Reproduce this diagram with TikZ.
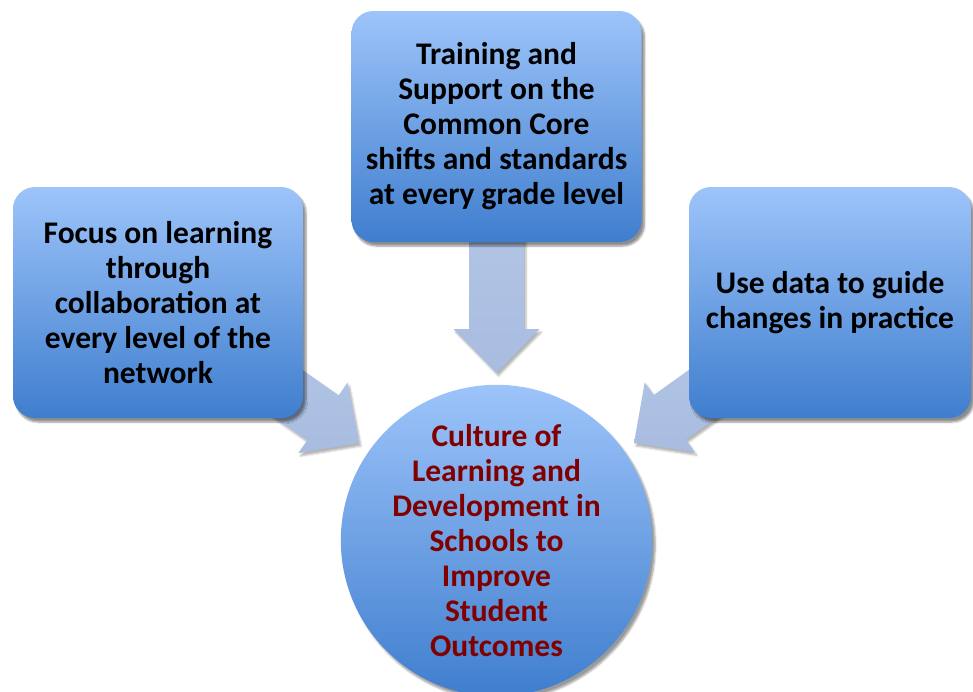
\documentclass[tikz,border=0pt]{standalone}
\usepackage{fontspec}
\setmainfont{Carlito}
\usetikzlibrary{calc,shadows.blur}

\definecolor{boxtop}{RGB}{157,196,250}
\definecolor{boxbot}{RGB}{63,126,206}
\definecolor{arrowtop}{RGB}{185,203,234}
\definecolor{arrowbot}{RGB}{168,188,224}
\definecolor{goalred}{RGB}{128,0,0}

\tikzset{
	aim/.style={rounded corners=22pt, top color=boxtop, bottom color=boxbot, minimum width=290pt, minimum height=231pt, inner sep=0pt, align=center, font=\fontsize{31.5}{35}\selectfont\bfseries, blur shadow={shadow xshift=3pt, shadow yshift=-4pt, shadow blur steps=6, shadow opacity=45}},
	goal/.style={circle, top color=boxtop, bottom color=boxbot, minimum size=307pt, inner sep=0pt, align=center, text=goalred, font=\fontsize{31.5}{35}\selectfont\bfseries, blur shadow={shadow xshift=3pt, shadow yshift=-4pt, shadow blur steps=6, shadow opacity=40}},
	fatarrow/.style={top color=arrowtop, bottom color=arrowbot, blur shadow={shadow xshift=2pt, shadow yshift=-3pt, shadow blur steps=4, shadow opacity=30}}
}

% block arrow from #1 (hidden behind a box) to its tip #2
\newcommand{\fatarrow}[2]{%
	\path ($(#2)!44pt!(#1)$) coordinate (hb);
	\path[fatarrow] ($(#1)!27.5pt!90:(#2)$) -- ($(hb)!27.5pt!-90:(#1)$) -- ($(hb)!43pt!-90:(#1)$) -- (#2)
		-- ($(hb)!43pt!90:(#1)$) -- ($(hb)!27.5pt!90:(#1)$) -- ($(#1)!27.5pt!-90:(#2)$) -- cycle;
}

\begin{document}
\begin{tikzpicture}[x=1pt, y=-1pt, line join=round]
		\useasboundingbox (0,0) rectangle (973,691);
		\coordinate (focus-c) at (158,302.5);
		\coordinate (train-c) at (496.5,126.5);
		\coordinate (data-c) at (830,302.5);
		\coordinate (tipL) at (359,443);
		\coordinate (tipT) at (496.5,373);
		\coordinate (tipR) at (634,443);
		% arrows go under the boxes
		\fatarrow{focus-c}{tipL}
		\fatarrow{train-c}{tipT}
		\fatarrow{data-c}{tipR}
		\node[aim] (focus) at (focus-c) {Focus on learning\\through\\collaboration at\\every level of the\\network};
		\node[aim] (train) at (train-c) {Training and\\Support on the\\Common Core\\shifts and standards\\at every grade level};
		\node[aim, minimum width=282pt] (data) at (data-c) {Use data to guide\\changes in practice};
		\node[goal] (culture) at (496.5,540.5) {Culture of\\Learning and\\Development in\\Schools to\\Improve\\Student\\Outcomes};
\end{tikzpicture}
\end{document}
